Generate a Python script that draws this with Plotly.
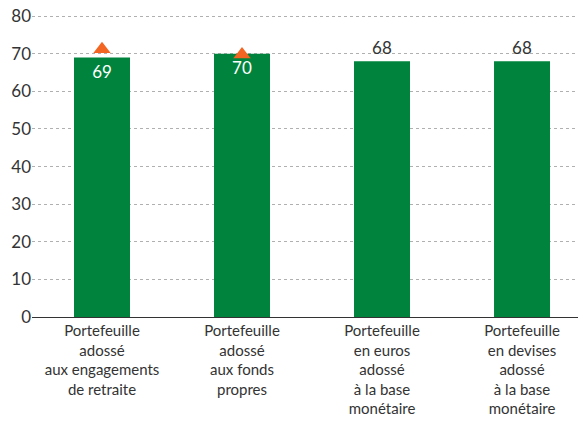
import plotly.graph_objects as go

# Data
categories = [
    "Portefeuille<br>adossé<br>aux engagements<br>de retraite",
    "Portefeuille<br>adossé<br>aux fonds<br>propres",
    "Portefeuille<br>en euros<br>adossé<br>à la base<br>monétaire",
    "Portefeuille<br>en devises<br>adossé<br>à la base<br>monétaire",
]
values = [69, 70, 68, 68]
previous = [71.2, 69.8, None, None]
y_ticks = [0, 10, 20, 30, 40, 50, 60, 70, 80]

green = "#00843D"
orange = "#F26522"
font_family = "Lato, sans-serif"

fig = go.Figure()

fig.add_trace(go.Bar(
    x=categories, y=values, width=0.4,
    marker=dict(color=green, line=dict(width=0)),
    text=[str(v) for v in values],
    textposition=["inside", "inside", "outside", "outside"],
    insidetextanchor="end",
    insidetextfont=dict(color="white", size=17, family=font_family),
    outsidetextfont=dict(color="#333333", size=17, family=font_family),
    cliponaxis=False,
    showlegend=False,
))

fig.add_trace(go.Scatter(
    x=categories, y=previous, mode="markers",
    marker=dict(symbol="triangle-up", size=15, color=orange, line=dict(width=0)),
    showlegend=False,
))

fig.update_layout(
    width=578, height=413,
    margin=dict(l=24, r=0, t=7, b=104),
    plot_bgcolor="white", paper_bgcolor="white",
    font=dict(family=font_family, size=15, color="#333333"),
    bargap=0.6,
)
fig.update_xaxes(
    range=[-0.5, 3.457], showgrid=False, ticks="",
    showline=True, linecolor="#333333", linewidth=1.2,
    tickfont=dict(size=15), automargin=False,
)
fig.update_yaxes(
    range=[0, 80.3], tickvals=y_ticks, showgrid=True,
    gridcolor="#b0b0b0", griddash="dot", gridwidth=1,
    zeroline=False, ticks="", tickfont=dict(size=17), automargin=False,
    ticklabeloverflow="allow",
)

fig.write_html("out.html")
